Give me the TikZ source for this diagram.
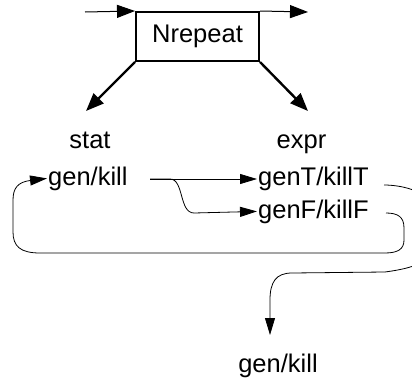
\documentclass[tikz,border=0pt]{standalone}
\usepackage{fontspec}
\setmainfont{Liberation Sans}
\usetikzlibrary{arrows.meta}
\begin{document}
\begin{tikzpicture}[x=1pt,y=-1pt,
  every node/.style={font=\fontsize{25.5}{29}\selectfont, inner sep=1pt},
  boxnode/.style={draw, line width=2pt, minimum width=123pt, minimum height=49pt, inner sep=0pt},
  toparrow/.style={line width=1pt, -{Triangle[length=18pt,width=13pt]}},
  diagarrow/.style={line width=2.4pt, -{Triangle[length=18pt,width=14pt]}},
  conn/.style={line width=0.8pt, -{Triangle[length=17pt,width=10pt]}},
  plain/.style={line width=0.8pt}]
\useasboundingbox (0,0) rectangle (412,380);
\clip (0,0) rectangle (412,380);
\node[boxnode] (box) at (197.5,36.5) {Nrepeat};
\coordinate (inL) at (85,12);
\coordinate (outR) at (308,12);
\coordinate (dl) at (86,111);
\coordinate (dr) at (308,111);
\draw[toparrow] (inL) -- (box.north west);
\draw[toparrow] (box.north east) -- (outR);
\draw[diagarrow] (box.south west) -- (dl);
\draw[diagarrow] (box.south east) -- (dr);
\node[anchor=base] (stat) at (90,148) {stat};
\node[anchor=base] (expr) at (301.5,148) {expr};
\node[anchor=base west] (sgk) at (47,185) {gen/kill};
\node[anchor=base west] (gT) at (257,185) {genT/killT};
\node[anchor=base west] (gF) at (257,218) {genF/killF};
\node[anchor=base] (bgk) at (278,372) {gen/kill};
\coordinate (s) at (150,179);
\draw[conn] (s) -- (s -| gT.west);
\draw[conn] (s) -- (170,179) .. controls (184,179) and (179,213) .. (194,213) -- (gF.west);
% loop from genF back to stat gen/kill
\draw[conn] (386,213) .. controls (398,213) and (404,217) .. (404,228) -- (404,240)
  .. controls (404,249) and (398,253) .. (385,253) -- (40,253)
  .. controls (20,253) and (13,246) .. (13,232) -- (13,200)
  .. controls (13,188) and (18,182) .. (sgk.west);
% loop from genT out of the page to the bottom gen/kill
\draw[conn] (384,185) .. controls (400,185) and (425,190) .. (432,205) -- (432,250)
  .. controls (428,262) and (415,268) .. (385,272) -- (292,273)
  .. controls (276,273) and (270,282) .. (270,300) -- (270,335);
\end{tikzpicture}
\end{document}
